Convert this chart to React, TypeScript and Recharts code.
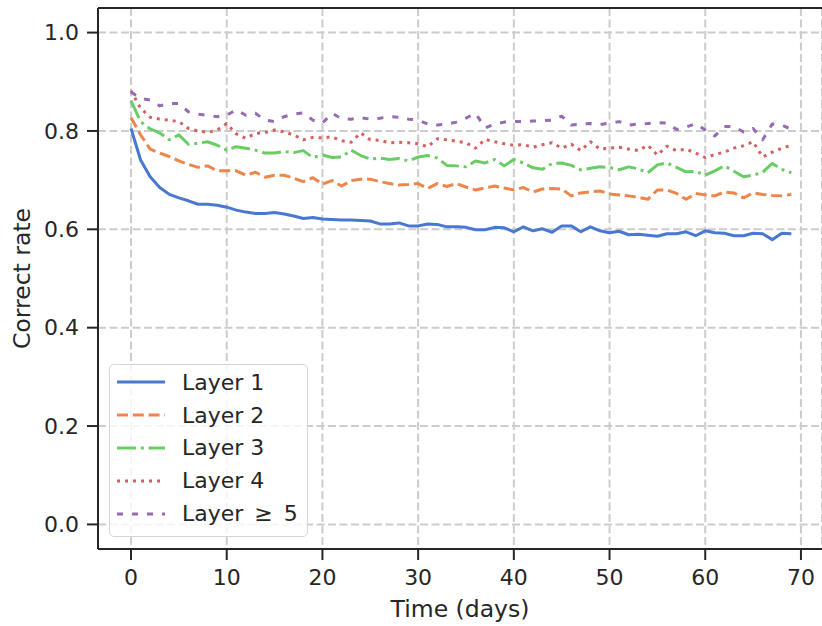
import React from "react";
import {
    LineChart,
    Line,
    XAxis,
    YAxis,
    CartesianGrid,
    Legend,
    ReferenceLine,
    Label,
} from "recharts";

// days 0..69
const days = Array.from({ length: 70 }, (_, i) => i);

const layer1 = [
    0.805, 0.741, 0.707, 0.685, 0.671, 0.664, 0.658, 0.651, 0.651, 0.649,
    0.645, 0.639, 0.635, 0.632, 0.632, 0.634, 0.631, 0.627, 0.622, 0.624,
    0.621, 0.620, 0.619, 0.619, 0.618, 0.617, 0.611, 0.611, 0.613, 0.607,
    0.607, 0.611, 0.610, 0.605, 0.605, 0.604, 0.599, 0.599, 0.604, 0.603,
    0.595, 0.605, 0.597, 0.601, 0.594, 0.607, 0.607, 0.595, 0.605, 0.597,
    0.593, 0.596, 0.589, 0.590, 0.588, 0.586, 0.591, 0.591, 0.595, 0.587,
    0.597, 0.593, 0.592, 0.587, 0.587, 0.592, 0.591, 0.579, 0.592, 0.591,
];

const layer2 = [
    0.827, 0.792, 0.763, 0.755, 0.748, 0.739, 0.732, 0.726, 0.729, 0.719,
    0.719, 0.719, 0.710, 0.716, 0.706, 0.710, 0.710, 0.704, 0.697, 0.705,
    0.692, 0.699, 0.688, 0.699, 0.702, 0.702, 0.697, 0.693, 0.690, 0.691,
    0.693, 0.683, 0.693, 0.687, 0.693, 0.686, 0.680, 0.684, 0.688, 0.684,
    0.680, 0.685, 0.676, 0.682, 0.683, 0.682, 0.668, 0.674, 0.676, 0.678,
    0.672, 0.670, 0.668, 0.665, 0.661, 0.680, 0.680, 0.673, 0.661, 0.673,
    0.670, 0.668, 0.676, 0.674, 0.664, 0.674, 0.671, 0.669, 0.668, 0.671,
];

const layer3 = [
    0.861, 0.819, 0.804, 0.796, 0.782, 0.792, 0.773, 0.775, 0.778, 0.771,
    0.761, 0.768, 0.765, 0.761, 0.755, 0.755, 0.758, 0.756, 0.760, 0.746,
    0.751, 0.746, 0.747, 0.761, 0.750, 0.743, 0.745, 0.742, 0.744, 0.739,
    0.747, 0.750, 0.745, 0.730, 0.729, 0.727, 0.739, 0.735, 0.742, 0.729,
    0.742, 0.735, 0.725, 0.722, 0.734, 0.735, 0.730, 0.721, 0.724, 0.727,
    0.726, 0.721, 0.727, 0.723, 0.715, 0.731, 0.735, 0.726, 0.717, 0.718,
    0.710, 0.719, 0.729, 0.718, 0.707, 0.710, 0.716, 0.734, 0.722, 0.715,
];

const layer4 = [
    0.882, 0.846, 0.828, 0.824, 0.822, 0.819, 0.805, 0.800, 0.797, 0.802,
    0.815, 0.794, 0.785, 0.795, 0.797, 0.802, 0.798, 0.792, 0.782, 0.787,
    0.786, 0.788, 0.780, 0.777, 0.796, 0.782, 0.781, 0.776, 0.777, 0.776,
    0.774, 0.768, 0.784, 0.782, 0.779, 0.776, 0.765, 0.783, 0.778, 0.774,
    0.771, 0.772, 0.767, 0.772, 0.776, 0.765, 0.773, 0.760, 0.778, 0.763,
    0.765, 0.767, 0.763, 0.760, 0.771, 0.751, 0.769, 0.760, 0.763, 0.755,
    0.746, 0.752, 0.757, 0.765, 0.770, 0.778, 0.747, 0.757, 0.765, 0.771,
];

const layer5 = [
    0.879, 0.866, 0.863, 0.851, 0.856, 0.856, 0.839, 0.834, 0.832, 0.829,
    0.832, 0.843, 0.832, 0.836, 0.822, 0.819, 0.829, 0.834, 0.837, 0.822,
    0.816, 0.836, 0.825, 0.824, 0.827, 0.824, 0.826, 0.829, 0.828, 0.824,
    0.822, 0.814, 0.812, 0.814, 0.818, 0.826, 0.836, 0.806, 0.814, 0.818,
    0.819, 0.819, 0.820, 0.821, 0.822, 0.830, 0.812, 0.814, 0.815, 0.813,
    0.816, 0.819, 0.812, 0.814, 0.815, 0.817, 0.816, 0.803, 0.808, 0.815,
    0.802, 0.790, 0.809, 0.809, 0.798, 0.805, 0.782, 0.814, 0.812, 0.803,
];

const xTicks = [0, 10, 20, 30, 40, 50, 60, 70];
const yTicks = [0, 0.2, 0.4, 0.6, 0.8, 1.0];

const data = days.map((d, i) => ({
    day: d,
    l1: layer1[i],
    l2: layer2[i],
    l3: layer3[i],
    l4: layer4[i],
    l5: layer5[i],
}));

const series = [
    { key: "l1", name: "Layer 1", color: "#4878d0", dash: undefined },
    { key: "l2", name: "Layer 2", color: "#ee854a", dash: "11 4.8" },
    { key: "l3", name: "Layer 3", color: "#6acc64", dash: "19 4.8 3 4.8" },
    { key: "l4", name: "Layer 4", color: "#d65f5f", dash: "3 5" },
    { key: "l5", name: "Layer\u2002\u2265\u20025", color: "#956cb4", dash: "6 9" },
];

const ink = "#262626";
const font = "'DejaVu Sans', sans-serif";

function LegendBox() {
    return (
        <div
            style={{
                boxSizing: "border-box",
                width: 199,
                height: 173,
                border: "1.5px solid #d6d6d6",
                borderRadius: 5,
                background: "rgba(255,255,255,0.8)",
                paddingTop: 1,
                fontFamily: font,
                fontSize: 22,
                color: ink,
            }}
        >
            {series.map((s) => (
                <div key={s.key} style={{ display: "flex", alignItems: "center", height: 32.8 }}>
                    <svg width={48} height={10} style={{ marginLeft: 7, marginRight: 17 }}>
                        <line x1={0} y1={5} x2={48} y2={5} stroke={s.color} strokeWidth={3} strokeDasharray={s.dash} />
                    </svg>
                    <span style={{ whiteSpace: "pre" }}>{s.name}</span>
                </div>
            ))}
        </div>
    );
}

export default function App() {
    return (
        <div style={{ position: "absolute", left: 0, top: 0 }}>
            <LineChart
                width={822}
                height={626}
                data={data}
                margin={{ top: 8, right: 0, bottom: 0, left: 0 }}
                style={{ fontFamily: font }}
            >
                <CartesianGrid stroke="#cccccc" strokeWidth={2} strokeDasharray="8 3.5" />
                <XAxis
                    dataKey="day"
                    type="number"
                    domain={[-3.45, 72.2]}
                    ticks={xTicks}
                    height={77}
                    tickSize={11}
                    tickMargin={9}
                    axisLine={{ stroke: ink, strokeWidth: 2 }}
                    tickLine={{ stroke: ink, strokeWidth: 2 }}
                    tick={{ fill: ink, fontSize: 22 }}
                    allowDataOverflow
                >
                    <Label value="Time (days)" position="insideBottom" offset={9} style={{ fill: ink, fontSize: 23.5 }} />
                </XAxis>
                <YAxis
                    type="number"
                    domain={[-0.05, 1.05]}
                    ticks={yTicks}
                    width={98}
                    tickSize={11}
                    tickMargin={8}
                    tickFormatter={(v: number) => v.toFixed(1)}
                    axisLine={{ stroke: ink, strokeWidth: 2 }}
                    tickLine={{ stroke: ink, strokeWidth: 2 }}
                    tick={{ fill: ink, fontSize: 22 }}
                    allowDataOverflow
                >
                    <Label
                        value="Correct rate"
                        angle={-90}
                        position="insideLeft"
                        offset={22}
                        style={{ textAnchor: "middle", fill: ink, fontSize: 23.5 }}
                    />
                </YAxis>
                <ReferenceLine y={1.05} stroke={ink} strokeWidth={2} />
                {series.map((s) => (
                    <Line
                        key={s.key}
                        type="linear"
                        dataKey={s.key}
                        name={s.name}
                        stroke={s.color}
                        strokeWidth={3}
                        strokeDasharray={s.dash}
                        strokeLinejoin="round"
                        dot={false}
                        activeDot={false}
                        isAnimationActive={false}
                    />
                ))}
                <Legend
                    layout="vertical"
                    align="center"
                    verticalAlign="middle"
                    content={() => <LegendBox />}
                    wrapperStyle={{ left: 109, top: 364, width: "auto", height: "auto" }}
                />
            </LineChart>
        </div>
    );
}
